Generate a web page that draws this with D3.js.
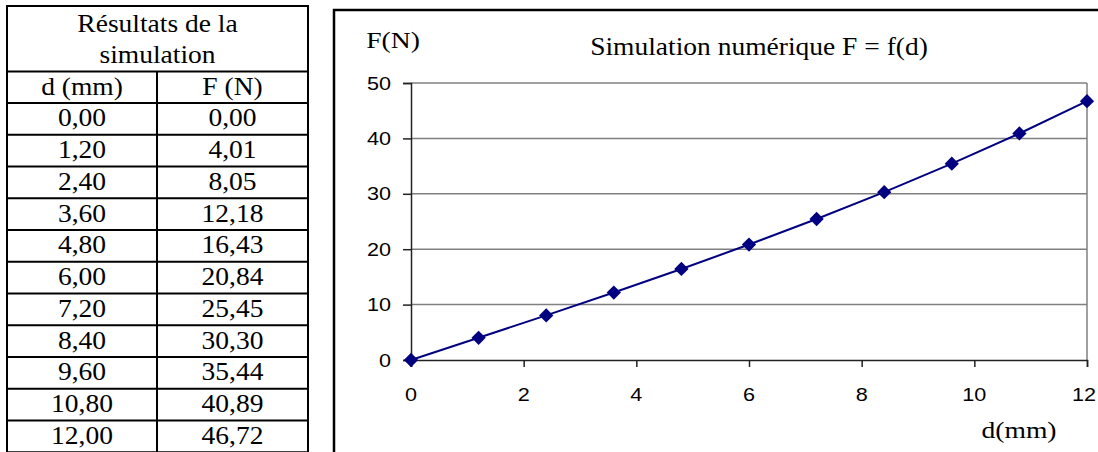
<!DOCTYPE html>
<html><head><meta charset="utf-8">
<script src="https://cdn.jsdelivr.net/npm/d3@7"></script>
<style>body{margin:0;background:#fff}svg{display:block}</style>
</head><body>
<svg id="c" width="1098" height="452"></svg>
<script>
const dVals = [0.00, 1.20, 2.40, 3.60, 4.80, 6.00, 7.20, 8.40, 9.60, 10.80, 12.00];
const fVals = [0.00, 4.01, 8.05, 12.18, 16.43, 20.84, 25.45, 30.30, 35.44, 40.89, 46.72];
const tableTitle = ["Résultats de la", "simulation"];
const colHeads = ["d (mm)", "F (N)"];
const xTicks = [0, 2, 4, 6, 8, 10, 12];
const yTicks = [0, 10, 20, 30, 40, 50];
const chartTitle = "Simulation numérique F = f(d)";
const yLabel = "F(N)";
const xLabel = "d(mm)";

const svg = d3.select("#c");
const SX = 1.1; // horizontal stretch of the original picture
const serif = "'Liberation Serif','Times New Roman',serif";
const sans = "'Liberation Sans',Arial,sans-serif";
const fmt = v => v.toFixed(2).replace(".", ",");

function txt(g, x, y, s, size, fam, anchor, sx) {
  return g.append("text")
    .attr("transform", `translate(${x},${y}) scale(${sx||SX},1)`)
    .attr("text-anchor", anchor || "middle")
    .style("font-family", fam).style("font-size", size + "px")
    .attr("fill", "#000").text(s);
}

// ---------- Table ----------
const T = {x0: 7, x1: 157, x2: 308, top: 6, head: 71.5, row0: 103, pitch: 31.75};
const tg = svg.append("g");
const nRows = dVals.length;
const tBottom = T.row0 + T.pitch * nRows;
tg.append("rect").attr("x", T.x0).attr("y", T.top).attr("width", T.x2 - T.x0).attr("height", tBottom - T.top)
  .attr("fill", "none").attr("stroke", "#000").attr("stroke-width", 2);
tg.append("line").attr("x1", T.x0).attr("x2", T.x2).attr("y1", T.head).attr("y2", T.head).attr("stroke", "#000").attr("stroke-width", 2);
tg.append("line").attr("x1", T.x1).attr("x2", T.x1).attr("y1", T.head).attr("y2", tBottom).attr("stroke", "#000").attr("stroke-width", 2);
d3.range(nRows).forEach(i => {
  const y = T.row0 + T.pitch * i;
  tg.append("line").attr("x1", T.x0).attr("x2", T.x2).attr("y1", y).attr("y2", y).attr("stroke", "#000").attr("stroke-width", 2);
});
const c1 = (T.x0 + T.x1) / 2, c2 = (T.x1 + T.x2) / 2;
txt(tg, (T.x0 + T.x2) / 2, 32, tableTitle[0], 25, serif);
txt(tg, (T.x0 + T.x2) / 2, 63, tableTitle[1], 25, serif);
txt(tg, c1, 95, colHeads[0], 25, serif);
txt(tg, c2, 95, colHeads[1], 25, serif);
dVals.forEach((d, i) => {
  const yb = T.row0 + T.pitch * (i + 1) - 8.5;
  txt(tg, c1, yb, fmt(d), 25, serif);
  txt(tg, c2, yb, fmt(fVals[i]), 25, serif);
});

// ---------- Chart ----------
svg.append("rect").attr("x", 334).attr("y", 10).attr("width", 900).attr("height", 600)
  .attr("fill", "none").attr("stroke", "#000").attr("stroke-width", 2.5);

const x = d3.scaleLinear().domain([0, 12]).range([411, 1087]);
const y = d3.scaleLinear().domain([0, 50]).range([360, 83]);

const g = svg.append("g");
// gridlines
g.selectAll(".grid").data(yTicks.filter(t => t > 0)).enter().append("line")
  .attr("x1", x(0)).attr("x2", x(12)).attr("y1", d => y(d)).attr("y2", d => y(d))
  .attr("stroke", "#808080").attr("stroke-width", 1.5);
// right border of plot
g.append("line").attr("x1", x(12)).attr("x2", x(12)).attr("y1", y(50)).attr("y2", y(0))
  .attr("stroke", "#808080").attr("stroke-width", 1.5);

// axes
const yAxis = d3.axisLeft(y).tickValues(yTicks).tickSize(8).tickFormat("");
const xAxis = d3.axisBottom(x).tickValues(xTicks).tickSize(7).tickFormat("");
const ya = g.append("g").attr("transform", `translate(${x(0)},0)`).call(yAxis);
const xa = g.append("g").attr("transform", `translate(0,${y(0)})`).call(xAxis);
[ya, xa].forEach(a => {
  a.select(".domain").attr("stroke", "#222").attr("stroke-width", 1.5);
  a.selectAll(".tick line").attr("stroke", "#222").attr("stroke-width", 1.5);
});
yTicks.forEach(t => txt(g, 391, y(t) + 6.5, String(t), 18, sans, "end", 1.2));
xTicks.forEach(t => txt(g, x(t) - (t === 12 ? 3 : 0), 401, String(t), 18, sans, "middle", 1.2));

// line + markers
const line = d3.line().x((d, i) => x(dVals[i])).y(d => y(d));
g.append("path").datum(fVals).attr("d", line).attr("fill", "none")
  .attr("stroke", "#000080").attr("stroke-width", 2);
const sym = d3.symbol().type(d3.symbolDiamond2).size(130);
g.selectAll(".pt").data(fVals).enter().append("path")
  .attr("transform", (d, i) => `translate(${x(dVals[i])},${y(d)})`)
  .attr("d", sym).attr("fill", "#000080");

// titles
txt(svg, 393, 48, yLabel, 23, serif, "middle", 1.2);
txt(svg, 759, 55, chartTitle, 25, serif, "middle", 1.1);
txt(svg, 1019, 438, xLabel, 23, serif, "middle", 1.2);
</script>
</body></html>
